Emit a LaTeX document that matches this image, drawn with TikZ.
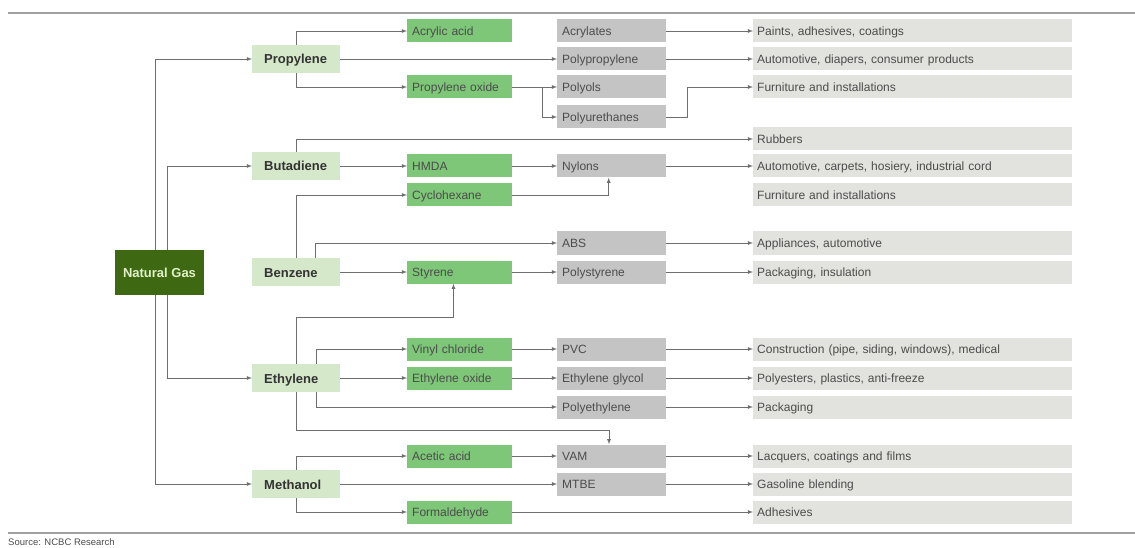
\documentclass[tikz,border=0pt]{standalone}
\usepackage{fontspec}
\setmainfont{Liberation Sans}
\usetikzlibrary{positioning}
\definecolor{gasgreen}{RGB}{62,104,18}
\definecolor{gastext}{RGB}{226,240,200}
\definecolor{palegreen}{RGB}{214,232,202}
\definecolor{midgreen}{RGB}{126,198,120}
\definecolor{midgray}{RGB}{196,196,196}
\definecolor{usegray}{RGB}{226,226,222}
\definecolor{linegray}{RGB}{110,110,110}
\definecolor{rulegray}{RGB}{160,160,160}

\begin{document}
\begin{tikzpicture}[x=1pt,y=-1pt,inner sep=0pt,font=\fontsize{12}{14}\selectfont]
\tikzstyle{gas}=[rectangle, fill=gasgreen, minimum width=89pt, minimum height=45pt, text=gastext, font=\fontsize{13}{15}\selectfont\bfseries]
\tikzstyle{feed}=[rectangle, fill=palegreen, anchor=west, minimum height=28pt, text width=64pt, inner xsep=12pt, align=left, text height=11pt, text depth=1pt, text=black!80, font=\fontsize{13}{15}\selectfont\bfseries]
\tikzstyle{inter}=[rectangle, fill=midgreen, anchor=west, minimum height=23pt, text width=95pt, inner xsep=5pt, align=left, text height=10pt, text depth=1pt, text=black!70]
\tikzstyle{prod}=[rectangle, fill=midgray, anchor=west, minimum height=23pt, text width=99pt, inner xsep=5pt, align=left, text height=10pt, text depth=1pt, text=black!70]
\tikzstyle{use}=[rectangle, fill=usegray, anchor=west, minimum height=23pt, text width=311pt, inner xsep=4pt, align=left, text height=10pt, text depth=1pt, text=black!70]
\tikzstyle{connect}=[-latex, draw=linegray, line width=0.8pt]
\tikzstyle{rule}=[draw=rulegray, line width=1.8pt]
\useasboundingbox (0,0) rectangle (1135,548);
\draw[rule] (8,13) -- (1135,13);
\draw[rule] (8,533) -- (1135,533);
\node[anchor=west, text=black!70, font=\fontsize{9.5}{11}\selectfont] (source) at (8,542) {Source: NCBC Research};
% feedstock and first products
\node[gas] (gas) at (159.5,272.5) {Natural Gas};
\node[feed] (propylene) at (252,59) {Propylene};
\node[feed] (butadiene) at (252,166) {Butadiene};
\node[feed] (benzene) at (252,272) {Benzene};
\node[feed] (ethylene) at (252,378) {Ethylene};
\node[feed] (methanol) at (252,484) {Methanol};
% intermediates
\node[inter] (acrylic) at (407,31) {Acrylic acid};
\node[inter] (propoxide) at (407,87) {Propylene oxide};
\node[inter] (hmda) at (407,166) {HMDA};
\node[inter] (cyclohexane) at (407,195) {Cyclohexane};
\node[inter] (styrene) at (407,272) {Styrene};
\node[inter] (vinyl) at (407,349) {Vinyl chloride};
\node[inter] (ethoxide) at (407,378) {Ethylene oxide};
\node[inter] (acetic) at (407,456) {Acetic acid};
\node[inter] (formaldehyde) at (407,512) {Formaldehyde};
% products
\node[prod] (acrylates) at (557,31) {Acrylates};
\node[prod] (polypropylene) at (557,59) {Polypropylene};
\node[prod] (polyols) at (557,87) {Polyols};
\node[prod] (polyurethanes) at (557,117) {Polyurethanes};
\node[prod] (nylons) at (557,166) {Nylons};
\node[prod] (abs) at (557,243) {ABS};
\node[prod] (polystyrene) at (557,272) {Polystyrene};
\node[prod] (pvc) at (557,349) {PVC};
\node[prod] (glycol) at (557,378) {Ethylene glycol};
\node[prod] (polyethylene) at (557,407) {Polyethylene};
\node[prod] (vam) at (557,456) {VAM};
\node[prod] (mtbe) at (557,484) {MTBE};
% end uses
\node[use] (paints) at (753,31) {Paints, adhesives, coatings};
\node[use] (diapers) at (753,59) {Automotive, diapers, consumer products};
\node[use] (furniture) at (753,87) {Furniture and installations};
\node[use] (rubbers) at (753,139) {Rubbers};
\node[use] (carpets) at (753,166) {Automotive, carpets, hosiery, industrial cord};
\node[use] (furnish) at (753,195) {Furniture and installations};
\node[use] (appliances) at (753,243) {Appliances, automotive};
\node[use] (insulation) at (753,272) {Packaging, insulation};
\node[use] (construction) at (753,349) {Construction (pipe, siding, windows), medical};
\node[use] (antifreeze) at (753,378) {Polyesters, plastics, anti-freeze};
\node[use] (packaging) at (753,407) {Packaging};
\node[use] (lacquers) at (753,456) {Lacquers, coatings and films};
\node[use] (gasoline) at (753,484) {Gasoline blending};
\node[use] (adhesives) at (753,512) {Adhesives};
\coordinate (stybend) at (453.5,317);
\coordinate (vambend) at (609,430);
% from natural gas
\draw[connect] ([xshift=-4.5pt]gas.north) |- (propylene.west);
\draw[connect] ([xshift=-4.5pt]gas.south) |- (methanol.west);
\draw[connect] ([xshift=7.5pt]gas.north) |- (butadiene.west);
\draw[connect] ([xshift=7.5pt]gas.south) |- (ethylene.west);
% propylene
\draw[connect] (propylene.north) |- (acrylic.west);
\draw[connect] (propylene.south) |- (propoxide.west);
\path (propylene.east) edge[connect] (polypropylene.west);
\path (propoxide.east) edge[connect] (polyols.west);
\draw[connect] ([xshift=30pt]propoxide.east) |- (polyurethanes.west);
\draw[connect] (polyurethanes.east) -- ++(21,0) |- (furniture.west);
% butadiene
\draw[connect] (butadiene.north) |- (rubbers.west);
\path (butadiene.east) edge[connect] (hmda.west);
\path (hmda.east) edge[connect] (nylons.west);
\draw[connect] (cyclohexane.east) -| ([xshift=-3pt]nylons.south);
% benzene
\draw[connect] (benzene.north) |- (cyclohexane.west);
\draw[connect] ([xshift=19pt]benzene.north) |- (abs.west);
\path (benzene.east) edge[connect] (styrene.west);
\path (styrene.east) edge[connect] (polystyrene.west);
% ethylene
\draw[connect] (ethylene.north) |- (stybend) -- (stybend |- styrene.south);
\draw[connect] ([xshift=20pt]ethylene.north) |- (vinyl.west);
\path (ethylene.east) edge[connect] (ethoxide.west);
\draw[connect] ([xshift=20pt]ethylene.south) |- (polyethylene.west);
\draw[connect] (ethylene.south) |- (vambend) -- (vambend |- vam.north);
\path (vinyl.east) edge[connect] (pvc.west);
\path (ethoxide.east) edge[connect] (glycol.west);
% methanol
\draw[connect] (methanol.north) |- (acetic.west);
\path (methanol.east) edge[connect] (mtbe.west);
\draw[connect] (methanol.south) |- (formaldehyde.west);
\path (acetic.east) edge[connect] (vam.west);
\path (formaldehyde.east) edge[connect] (adhesives.west);
% end uses
\path (acrylates.east) edge[connect] (paints.west);
\path (polypropylene.east) edge[connect] (diapers.west);
\path (nylons.east) edge[connect] (carpets.west);
\path (abs.east) edge[connect] (appliances.west);
\path (polystyrene.east) edge[connect] (insulation.west);
\path (pvc.east) edge[connect] (construction.west);
\path (glycol.east) edge[connect] (antifreeze.west);
\path (polyethylene.east) edge[connect] (packaging.west);
\path (vam.east) edge[connect] (lacquers.west);
\path (mtbe.east) edge[connect] (gasoline.west);
\end{tikzpicture}
\end{document}
